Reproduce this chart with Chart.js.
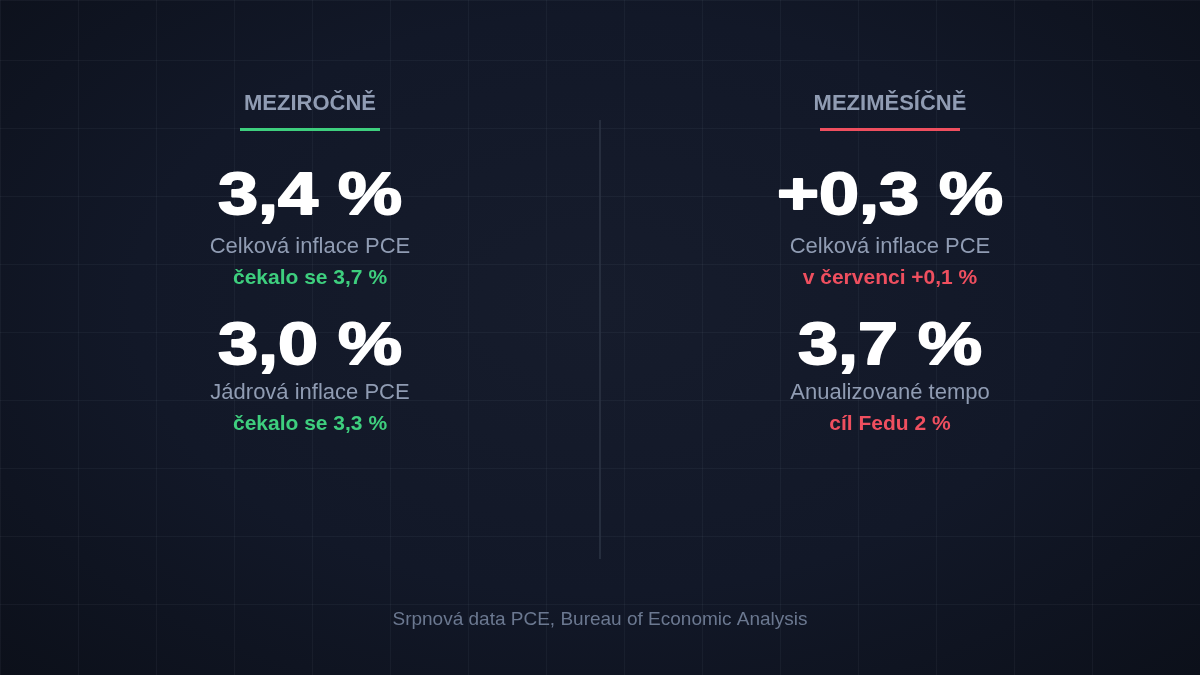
<!DOCTYPE html>
<html>
<head>
<meta charset="utf-8">
<script src="https://cdn.jsdelivr.net/npm/chart.js@4.4.1/dist/chart.umd.min.js"></script>
<style>
  html, body { margin: 0; padding: 0; background: #0e1320; }
  #wrap {
    width: 1200px; height: 675px; position: relative;
    background: radial-gradient(ellipse at 50% 45%, #161c2c 0%, #121828 55%, #0c101a 100%);
  }
</style>
</head>
<body>
<div id="wrap"><canvas id="panel"></canvas></div>
<script>
// hodnoty z obrázku
const headers = ['MEZIROČNĚ', 'MEZIMĚSÍČNĚ'];
const bigValues = [['3,4 %', '3,0 %'], ['+0,3 %', '3,7 %']];
const valueLabels = [['Celková inflace PCE', 'Jádrová inflace PCE'], ['Celková inflace PCE', 'Anualizované tempo']];
const notes = [['čekalo se 3,7 %', 'čekalo se 3,3 %'], ['v červenci +0,1 %', 'cíl Fedu 2 %']];
const source = 'Srpnová data PCE, Bureau of Economic Analysis';

const accent = ['#3ecf7e', '#ef4f5f'];
const FONT = '"Liberation Sans", Arial, sans-serif';

const textPlugin = {
    id: 'textPanel',
    afterDraw(chart) {
        const ctx = chart.ctx;
        const cols = [310, 890];
        ctx.save();
        ctx.textAlign = 'center';
        ctx.textBaseline = 'alphabetic';

        // dělicí čára
        ctx.strokeStyle = '#2c3444';
        ctx.lineWidth = 1.5;
        ctx.beginPath();
        ctx.moveTo(600, 120);
        ctx.lineTo(600, 559);
        ctx.stroke();

        cols.forEach((cx, i) => {
            ctx.fillStyle = '#909cb3';
            ctx.font = 'bold 22px ' + FONT;
            ctx.fillText(headers[i], cx, 110);

            ctx.fillStyle = accent[i];
            ctx.fillRect(cx - 70, 128, 140, 3);

            [0, 1].forEach(j => {
                // velké číslo - široké a tučné
                ctx.save();
                ctx.translate(cx, 214 + j * 150);
                ctx.scale(1.2, 1);
                ctx.fillStyle = '#ffffff';
                ctx.strokeStyle = '#ffffff';
                ctx.lineWidth = 1.8;
                ctx.lineJoin = 'round';
                ctx.font = 'bold 60px ' + FONT;
                ctx.fillText(bigValues[i][j], 0, 0);
                ctx.strokeText(bigValues[i][j], 0, 0);
                ctx.restore();

                ctx.fillStyle = '#909cb3';
                ctx.font = '22px ' + FONT;
                ctx.fillText(valueLabels[i][j], cx, 253 + j * 146);

                ctx.fillStyle = accent[i];
                ctx.font = 'bold 21px ' + FONT;
                ctx.fillText(notes[i][j], cx, 284 + j * 146);
            });
        });

        ctx.fillStyle = '#6b7890';
        ctx.font = '19px ' + FONT;
        ctx.fillText(source, 600, 625);
        ctx.restore();
    }
};

new Chart(document.getElementById('panel'), {
    type: 'scatter',
    data: { datasets: [{ data: [] }] },
    options: {
        responsive: true,
        maintainAspectRatio: false,
        animation: false,
        layout: { padding: 0 },
        scales: {
            x: {
                type: 'linear', min: 0, max: 1200,
                ticks: { display: false, stepSize: 78 },
                grid: { color: 'rgba(148,163,184,0.065)', drawTicks: false },
                border: { display: false }
            },
            y: {
                type: 'linear', min: 8, max: 683, reverse: true,
                ticks: { display: false, stepSize: 68 },
                grid: { color: 'rgba(148,163,184,0.065)', drawTicks: false },
                border: { display: false }
            }
        },
        plugins: {
            legend: { display: false },
            tooltip: { enabled: false }
        }
    },
    plugins: [textPlugin]
});
</script>
</body>
</html>
